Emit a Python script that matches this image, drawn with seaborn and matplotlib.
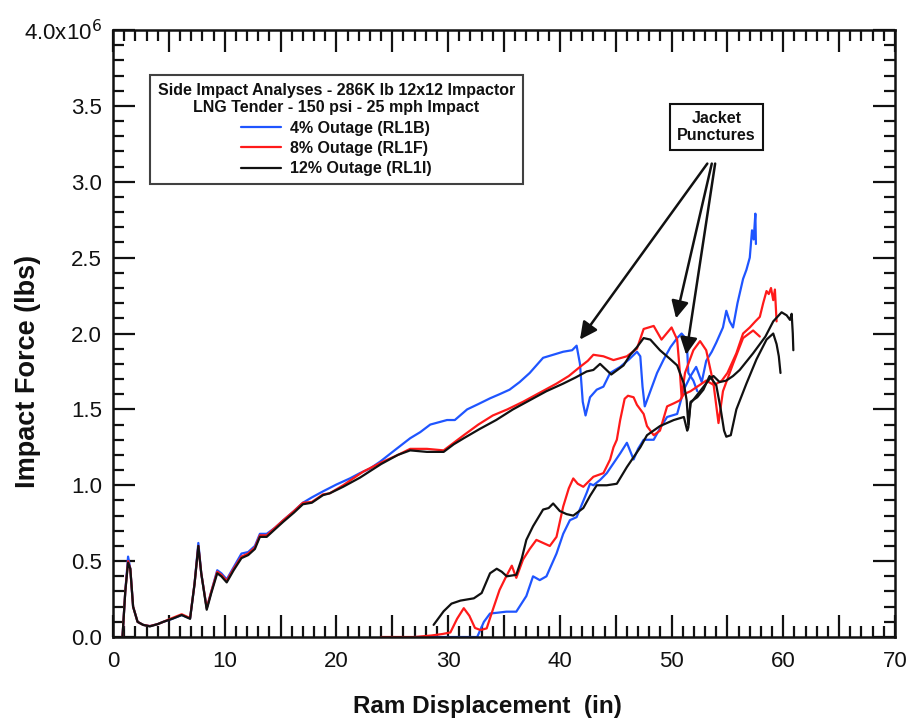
import matplotlib
matplotlib.use("Agg")
import matplotlib.pyplot as plt
from matplotlib.ticker import MultipleLocator, FuncFormatter
from matplotlib.lines import Line2D
import seaborn as sns

sns.set_theme(style="ticks")
plt.rcParams["font.family"] = ["Liberation Sans", "DejaVu Sans"]
plt.rcParams["text.color"] = "#111111"
plt.rcParams["axes.labelcolor"] = "#111111"
plt.rcParams["xtick.color"] = "#111111"
plt.rcParams["ytick.color"] = "#111111"

# Ram displacement (in) and impact force (10^6 lbs), two traces per case
blue_main_x = [0.85, 1.1, 1.35, 1.55, 1.8, 2.2, 2.7, 3.3, 4.0, 4.5, 5.3, 6.15, 6.9, 7.3, 7.64, 7.9, 8.39, 8.8,
               9.33, 9.7, 10.18, 10.8, 11.5, 12.1, 12.7, 13.15, 13.76, 14.5, 15.25, 16.2, 17.0, 17.8, 18.8, 20.0,
               21.2, 22.1, 23.0, 23.9, 25.2, 26.6, 27.5, 28.4, 29.9, 30.6, 31.7, 32.7, 33.75, 34.6, 35.5, 36.4,
               37.3, 38.5, 39.4, 40.3, 41.1, 41.5, 41.8, 42.05, 42.3, 42.7, 43.3, 43.9, 44.5, 45.4, 46.2, 46.9,
               47.2, 47.4, 47.6, 48.0, 48.7, 49.3, 49.9, 50.5, 50.9, 51.35, 51.5, 51.95, 52.3]
blue_main_y = [0.0, 0.3, 0.53, 0.45, 0.2, 0.10, 0.08, 0.072, 0.085, 0.10, 0.12, 0.145, 0.123, 0.35, 0.62, 0.42,
               0.19, 0.30, 0.44, 0.42, 0.38, 0.46, 0.55, 0.56, 0.60, 0.68, 0.68, 0.72, 0.77, 0.83, 0.885, 0.92,
               0.96, 1.005, 1.045, 1.08, 1.11, 1.155, 1.23, 1.31, 1.35, 1.40, 1.43, 1.43, 1.50, 1.535, 1.573,
               1.60, 1.63, 1.68, 1.74, 1.84, 1.86, 1.88, 1.89, 1.92, 1.80, 1.55, 1.46, 1.58, 1.63, 1.65, 1.74,
               1.78, 1.83, 1.88, 1.85, 1.65, 1.52, 1.60, 1.74, 1.83, 1.91, 1.97, 2.00, 1.96, 1.74, 1.69, 1.62]

blue_late_x = [26.9, 28.5, 30.0, 31.5, 32.6, 33.2, 33.75, 34.4, 35.2, 36.1, 37.0, 37.6, 38.2, 38.8, 39.7, 40.3,
               40.9, 41.5, 42.4, 42.7, 43.0, 43.6, 44.2, 44.8, 45.4, 46.0, 46.6, 47.0, 47.5, 48.4, 49.0, 49.6,
               50.5, 51.1, 51.7, 52.2, 52.7, 53.1, 53.6, 54.0, 54.6, 54.9, 55.2, 55.5, 55.9, 56.4, 56.7, 57.0,
               57.2, 57.35, 57.5, 57.55]
blue_late_y = [0.0, 0.0, 0.0, 0.0, 0.0, 0.10, 0.155, 0.16, 0.167, 0.167, 0.27, 0.40, 0.375, 0.40, 0.55, 0.68,
               0.77, 0.79, 0.95, 1.01, 1.00, 1.035, 1.08, 1.145, 1.21, 1.28, 1.17, 1.24, 1.30, 1.30, 1.38, 1.45,
               1.47, 1.63, 1.72, 1.78, 1.68, 1.82, 1.88, 1.94, 2.04, 2.15, 2.08, 2.04, 2.20, 2.36, 2.42, 2.50,
               2.68, 2.62, 2.79, 2.59]

red_main_x = [0.85, 1.1, 1.35, 1.55, 1.8, 2.2, 2.7, 3.3, 4.0, 4.5, 5.3, 6.15, 6.9, 7.3, 7.64, 7.9, 8.39, 8.8,
              9.33, 9.7, 10.18, 10.8, 11.5, 12.1, 12.7, 13.15, 13.76, 14.5, 15.25, 16.2, 17.0, 17.8, 18.8, 19.4,
              20.6, 22.4, 24.0, 25.5, 26.6, 28.1, 29.6, 30.5, 31.4, 32.7, 34.0, 35.3, 36.7, 38.2, 39.7, 40.8,
              41.8, 42.5, 43.0, 43.9, 44.8, 46.0, 46.9, 47.5, 48.4, 49.1, 50.0, 50.5, 50.75, 50.9, 51.2, 51.95,
              52.55, 53.1, 53.75, 54.2, 54.6, 55.5, 56.4, 57.3, 57.9]
red_main_y = [0.0, 0.3, 0.50, 0.45, 0.2, 0.10, 0.08, 0.072, 0.085, 0.10, 0.125, 0.15, 0.125, 0.35, 0.60, 0.42,
              0.19, 0.30, 0.43, 0.41, 0.37, 0.45, 0.53, 0.55, 0.59, 0.67, 0.67, 0.72, 0.77, 0.83, 0.885, 0.89,
              0.94, 0.947, 1.0, 1.09, 1.15, 1.20, 1.24, 1.24, 1.23, 1.28, 1.33, 1.40, 1.46, 1.50, 1.55, 1.61,
              1.67, 1.72, 1.78, 1.82, 1.86, 1.85, 1.825, 1.85, 1.90, 2.03, 2.05, 1.96, 2.04, 1.96, 1.74, 1.58,
              1.74, 1.89, 1.95, 1.89, 1.67, 1.41, 1.62, 1.80, 1.97, 2.02, 1.98]

red_late_x = [24.0, 25.5, 27.0, 28.5, 29.5, 30.2, 30.8, 31.4, 31.9, 32.4, 32.9, 33.45, 34.0, 34.6, 35.2, 35.7,
              36.1, 36.7, 37.3, 37.9, 38.5, 39.1, 39.7, 40.3, 40.8, 41.2, 41.6, 42.1, 43.0, 43.9, 44.5, 44.8,
              45.1, 45.4, 45.8, 46.1, 46.6, 46.9, 47.5, 47.8, 48.4, 48.96, 49.6, 50.2, 50.75, 51.1, 51.7, 52.5,
              53.1, 53.8, 54.5, 55.0, 55.8, 56.4, 57.0, 57.5, 57.9, 58.2, 58.5, 58.7, 58.9, 59.1, 59.25, 59.4]
red_late_y = [0.0, 0.0, 0.0, 0.01, 0.02, 0.03, 0.12, 0.19, 0.14, 0.06, 0.046, 0.057, 0.18, 0.31, 0.40, 0.47,
              0.39, 0.51, 0.58, 0.64, 0.62, 0.60, 0.66, 0.86, 0.98, 1.045, 1.01, 0.99, 1.056, 1.08, 1.17, 1.25,
              1.30, 1.43, 1.57, 1.59, 1.58, 1.53, 1.47, 1.39, 1.33, 1.36, 1.52, 1.54, 1.56, 1.60, 1.62, 1.66,
              1.69, 1.66, 1.69, 1.74, 1.87, 2.00, 2.04, 2.08, 2.11, 2.20, 2.28, 2.26, 2.30, 2.22, 2.29, 2.08]

black_main_x = [0.85, 1.1, 1.35, 1.55, 1.8, 2.2, 2.7, 3.3, 4.0, 4.5, 5.3, 6.15, 6.9, 7.3, 7.64, 7.9, 8.39, 8.8,
                9.33, 9.7, 10.18, 10.8, 11.5, 12.1, 12.7, 13.15, 13.76, 14.5, 15.25, 16.2, 17.0, 17.8, 18.8,
                19.4, 20.6, 22.1, 24.0, 25.5, 26.6, 28.1, 29.6, 30.5, 31.4, 32.8, 34.3, 35.8, 37.3, 38.8, 40.3,
                41.4, 42.4, 43.0, 43.6, 44.6, 45.7, 46.3, 46.9, 47.5, 48.1, 48.96, 49.9, 50.5, 51.1, 51.35, 51.5,
                51.7, 52.3, 52.85, 53.4, 54.0, 54.4, 54.7, 54.9, 55.3, 55.8, 56.7, 57.6, 58.5, 59.1, 59.4, 59.6,
                59.75]
black_main_y = [0.0, 0.3, 0.49, 0.45, 0.2, 0.10, 0.08, 0.07, 0.085, 0.10, 0.12, 0.145, 0.12, 0.35, 0.60, 0.42,
                0.18, 0.29, 0.42, 0.40, 0.36, 0.44, 0.52, 0.54, 0.58, 0.66, 0.66, 0.71, 0.76, 0.82, 0.875, 0.885,
                0.935, 0.947, 0.99, 1.05, 1.14, 1.20, 1.23, 1.22, 1.22, 1.27, 1.31, 1.37, 1.43, 1.50, 1.56, 1.62,
                1.67, 1.71, 1.75, 1.76, 1.80, 1.73, 1.79, 1.86, 1.91, 1.97, 1.96, 1.89, 1.83, 1.79, 1.67, 1.56,
                1.40, 1.55, 1.58, 1.63, 1.72, 1.66, 1.50, 1.36, 1.32, 1.33, 1.50, 1.67, 1.83, 1.96, 2.00, 1.93,
                1.85, 1.74]

black_late_x = [28.7, 29.6, 30.3, 31.1, 32.3, 33.0, 33.75, 34.35, 34.8, 35.25, 36.1, 36.6, 37.0, 37.6, 38.5,
                39.0, 39.4, 40.0, 40.6, 41.2, 42.1, 42.7, 43.3, 44.2, 45.1, 46.0, 47.2, 47.8, 48.96, 50.2, 51.1,
                51.4, 51.5, 51.7, 52.55, 53.4, 53.75, 54.3, 54.9, 55.5, 56.1, 57.3, 58.4, 59.1, 59.85, 60.3, 60.6,
                60.75, 60.85, 60.9]
black_late_y = [0.08, 0.17, 0.22, 0.24, 0.255, 0.29, 0.42, 0.45, 0.43, 0.40, 0.41, 0.52, 0.64, 0.73, 0.84, 0.85,
                0.88, 0.83, 0.81, 0.80, 0.85, 0.93, 1.00, 1.00, 1.01, 1.12, 1.25, 1.33, 1.39, 1.43, 1.45, 1.36,
                1.38, 1.54, 1.62, 1.70, 1.72, 1.68, 1.69, 1.72, 1.76, 1.87, 1.98, 2.08, 2.14, 2.12, 2.09, 2.13,
                2.00, 1.89]

legend_title = "Side Impact Analyses - 286K lb 12x12 Impactor\nLNG Tender - 150 psi - 25 mph Impact"
case_labels = ["4% Outage (RL1B)", "8% Outage (RL1F)", "12% Outage (RL1I)"]
case_colors = ["#1f55ff", "#ff1a1a", "#111111"]

# Points on the curves picked out as jacket punctures
puncture_x = [41.8, 50.4, 51.3]
puncture_y = [1.96, 2.10, 1.86]

SCALE = 1e6

fig = plt.figure(figsize=(9.09, 7.22), dpi=100)
ax = fig.add_axes([0.1243, 0.1177, 0.8603, 0.8407])

series = [
    (blue_main_x, blue_main_y, blue_late_x, blue_late_y),
    (red_main_x, red_main_y, red_late_x, red_late_y),
    (black_main_x, black_main_y, black_late_x, black_late_y),
]
for (mx, my, lx, ly), col in zip(series, case_colors):
    for xs, ys in ((mx, my), (lx, ly)):
        sns.lineplot(x=xs, y=[v * SCALE for v in ys], ax=ax, color=col, lw=1.6,
                     sort=False, estimator=None, legend=False)

ax.set_xlim(0, 70)
ax.set_ylim(0, 4.0e6)

ax.xaxis.set_major_locator(MultipleLocator(5))
ax.xaxis.set_minor_locator(MultipleLocator(1))
ax.yaxis.set_major_locator(MultipleLocator(0.5e6))
ax.yaxis.set_minor_locator(MultipleLocator(0.1e6))


def fmt_x(v, pos):
    return f"{int(round(v))}" if int(round(v)) % 10 == 0 else ""


def fmt_y(v, pos):
    if abs(v - 4.0e6) < 1:
        return r"4.0x10$^6$"
    return f"{v / SCALE:.1f}"


ax.xaxis.set_major_formatter(FuncFormatter(fmt_x))
ax.yaxis.set_major_formatter(FuncFormatter(fmt_y))

ax.tick_params(which="both", direction="in", top=True, right=True, width=1.6, color="#111111")
ax.tick_params(which="major", length=16, labelsize=16)
ax.tick_params(axis="x", which="major", pad=10)
ax.tick_params(axis="y", which="major", pad=8)
ax.tick_params(which="minor", length=8)
for sp in ax.spines.values():
    sp.set_linewidth(1.8)
    sp.set_color("#111111")

ax.set_xlabel("Ram Displacement  (in)", fontsize=17.5, fontweight="bold")
ax.xaxis.set_label_coords(0.479, -0.095)
ax.set_ylabel("Impact Force (lbs)", fontsize=19.5, fontweight="bold")
ax.yaxis.set_label_coords(-0.092, 0.437)

handles = [Line2D([], [], color=c, lw=1.6) for c in case_colors]
leg = ax.legend(handles, case_labels, title=legend_title, loc="upper left",
                bbox_to_anchor=(0.047, 0.926), frameon=True, fancybox=False,
                edgecolor="#111111", fontsize=11.5, title_fontsize=11.5,
                handlelength=2.5, handletextpad=0.6, labelspacing=0.33,
                borderpad=0.5, borderaxespad=0)
leg.get_frame().set_linewidth(1.5)
leg.get_title().set_fontweight("bold")
leg.get_title().set_multialignment("center")
for t in leg.get_texts():
    t.set_fontweight("bold")

tails = [(53.2, 3.12), (53.6, 3.12), (53.9, 3.12)]
for (tx, ty), px, py in zip(tails, puncture_x, puncture_y):
    ax.annotate("", xy=(px, py * SCALE), xytext=(tx, ty * SCALE),
                arrowprops=dict(arrowstyle="-|>", color="#111111", lw=1.8,
                                mutation_scale=26, shrinkA=0, shrinkB=0))
ax.text(54.0, 3.36e6, "Jacket\nPunctures", ha="center", va="center", fontsize=11.5,
        fontweight="bold", linespacing=1.15,
        bbox=dict(boxstyle="square,pad=0.45", fc="white", ec="#111111", lw=1.5))

fig.savefig("out.png", dpi=100)
